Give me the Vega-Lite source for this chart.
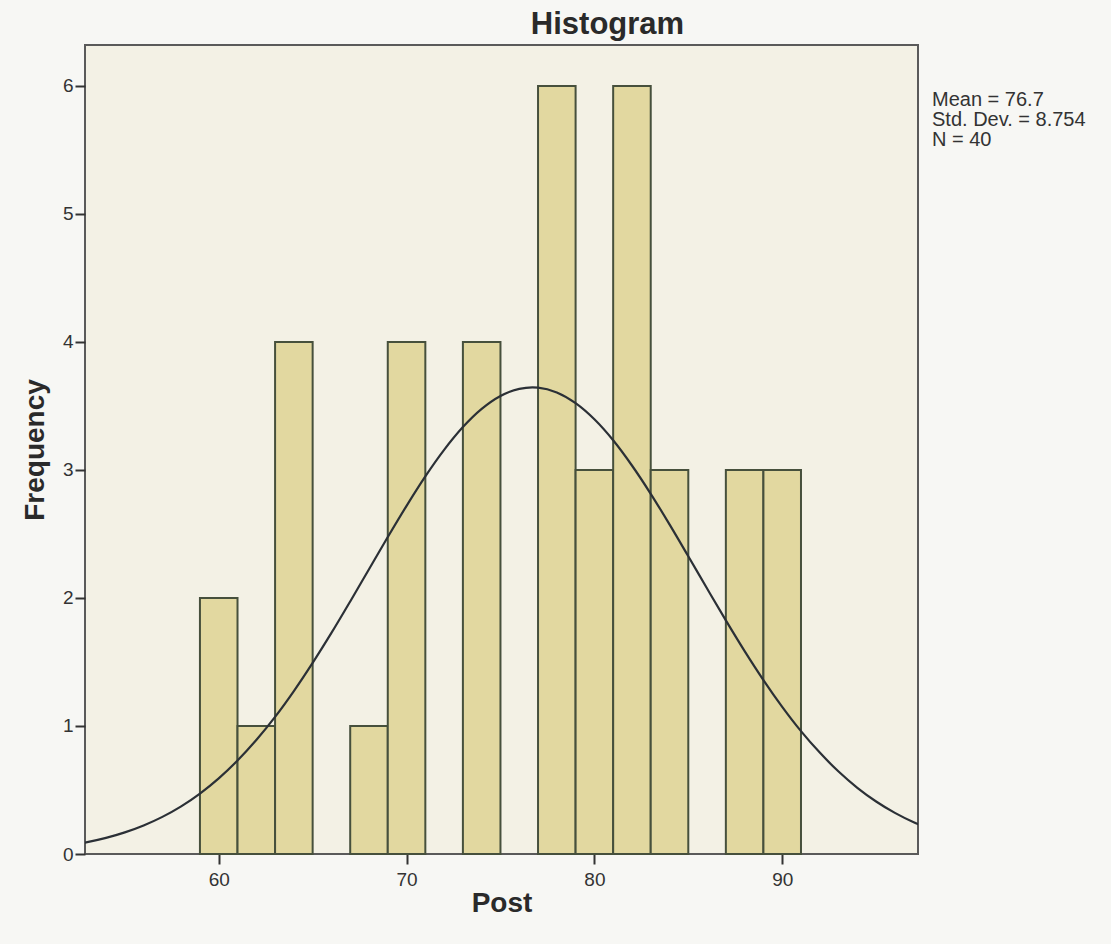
{
  "$schema": "https://vega.github.io/schema/vega-lite/v6.json",
  "width": 833,
  "height": 809,
  "autosize": {"type": "none"},
  "padding": {"left": 85, "top": 45, "right": 193, "bottom": 90},
  "background": "#f7f7f4",
  "title": {"text": "Histogram", "font": "Liberation Sans", "fontSize": 31, "fontWeight": "bold", "color": "#2a2a2a", "anchor": "middle", "dx": 106, "offset": 4},
  "config": {
    "view": {"fill": "#f3f1e5", "stroke": "#5a5a5a", "strokeWidth": 2},
    "axis": {"labelFont": "Liberation Sans", "labelFontSize": 19, "labelColor": "#333333", "titleFont": "Liberation Sans", "titleFontSize": 28, "titleFontWeight": "bold", "titleColor": "#2a2a2a", "grid": false, "domain": false, "tickColor": "#333333", "tickWidth": 2, "tickSize": 10}
  },
  "datasets": {
    "bars": [
      {"start": 59, "end": 61, "count": 2},
      {"start": 61, "end": 63, "count": 1},
      {"start": 63, "end": 65, "count": 4},
      {"start": 67, "end": 69, "count": 1},
      {"start": 69, "end": 71, "count": 4},
      {"start": 73, "end": 75, "count": 4},
      {"start": 77, "end": 79, "count": 6},
      {"start": 79, "end": 81, "count": 3},
      {"start": 81, "end": 83, "count": 6},
      {"start": 83, "end": 85, "count": 3},
      {"start": 87, "end": 89, "count": 3},
      {"start": 89, "end": 91, "count": 3}
    ],
    "curve": [
      {"x": 52, "y": 0.068}, {"x": 53, "y": 0.093}, {"x": 54, "y": 0.126}, {"x": 55, "y": 0.169},
      {"x": 56, "y": 0.223}, {"x": 57, "y": 0.290}, {"x": 58, "y": 0.372}, {"x": 59, "y": 0.472},
      {"x": 60, "y": 0.591}, {"x": 61, "y": 0.730}, {"x": 62, "y": 0.890}, {"x": 63, "y": 1.071},
      {"x": 64, "y": 1.273}, {"x": 65, "y": 1.493}, {"x": 66, "y": 1.727}, {"x": 67, "y": 1.973},
      {"x": 68, "y": 2.225}, {"x": 69, "y": 2.476}, {"x": 70, "y": 2.720}, {"x": 71, "y": 2.950},
      {"x": 72, "y": 3.157}, {"x": 73, "y": 3.335}, {"x": 74, "y": 3.477}, {"x": 75, "y": 3.578},
      {"x": 76, "y": 3.634}, {"x": 76.7, "y": 3.646}, {"x": 77, "y": 3.644}, {"x": 78, "y": 3.606},
      {"x": 79, "y": 3.522}, {"x": 80, "y": 3.396}, {"x": 81, "y": 3.232}, {"x": 82, "y": 3.035},
      {"x": 83, "y": 2.814}, {"x": 84, "y": 2.575}, {"x": 85, "y": 2.326}, {"x": 86, "y": 2.074},
      {"x": 87, "y": 1.825}, {"x": 88, "y": 1.585}, {"x": 89, "y": 1.359}, {"x": 90, "y": 1.150},
      {"x": 91, "y": 0.960}, {"x": 92, "y": 0.792}, {"x": 93, "y": 0.644}, {"x": 94, "y": 0.517},
      {"x": 95, "y": 0.410}, {"x": 96, "y": 0.321}, {"x": 97, "y": 0.248}, {"x": 98, "y": 0.189}
    ],
    "stats": [{"label": ["Mean = 76.7", "Std. Dev. = 8.754", "N = 40"]}]
  },
  "layer": [
    {
      "data": {"name": "bars"},
      "mark": {"type": "rect", "fill": "#e2d8a0", "stroke": "#46503c", "strokeWidth": 2},
      "encoding": {
        "x": {"field": "start", "type": "quantitative", "scale": {"domain": [52.88, 97.23], "nice": false, "zero": false}, "axis": {"values": [60, 70, 80, 90], "format": "d", "title": "Post", "titlePadding": 0, "labelPadding": 6}},
        "x2": {"field": "end"},
        "y": {"field": "count", "type": "quantitative", "scale": {"domain": [0, 6.32], "nice": false}, "axis": {"values": [0, 1, 2, 3, 4, 5, 6], "format": "d", "title": "Frequency", "titlePadding": 13, "labelPadding": 2}},
        "y2": {"datum": 0}
      }
    },
    {
      "data": {"name": "curve"},
      "mark": {"type": "line", "color": "#2b3036", "strokeWidth": 2.2, "interpolate": "monotone", "clip": true},
      "encoding": {
        "x": {"field": "x", "type": "quantitative"},
        "y": {"field": "y", "type": "quantitative"}
      }
    },
    {
      "data": {"name": "stats"},
      "mark": {"type": "text", "align": "left", "baseline": "top", "font": "Liberation Sans", "fontSize": 20, "letterSpacing": -0.3, "color": "#333333", "lineHeight": 20, "dx": 14, "clip": false},
      "encoding": {
        "x": {"datum": 97.23, "type": "quantitative"},
        "y": {"datum": 5.97, "type": "quantitative"},
        "text": {"field": "label"}
      }
    }
  ]
}
